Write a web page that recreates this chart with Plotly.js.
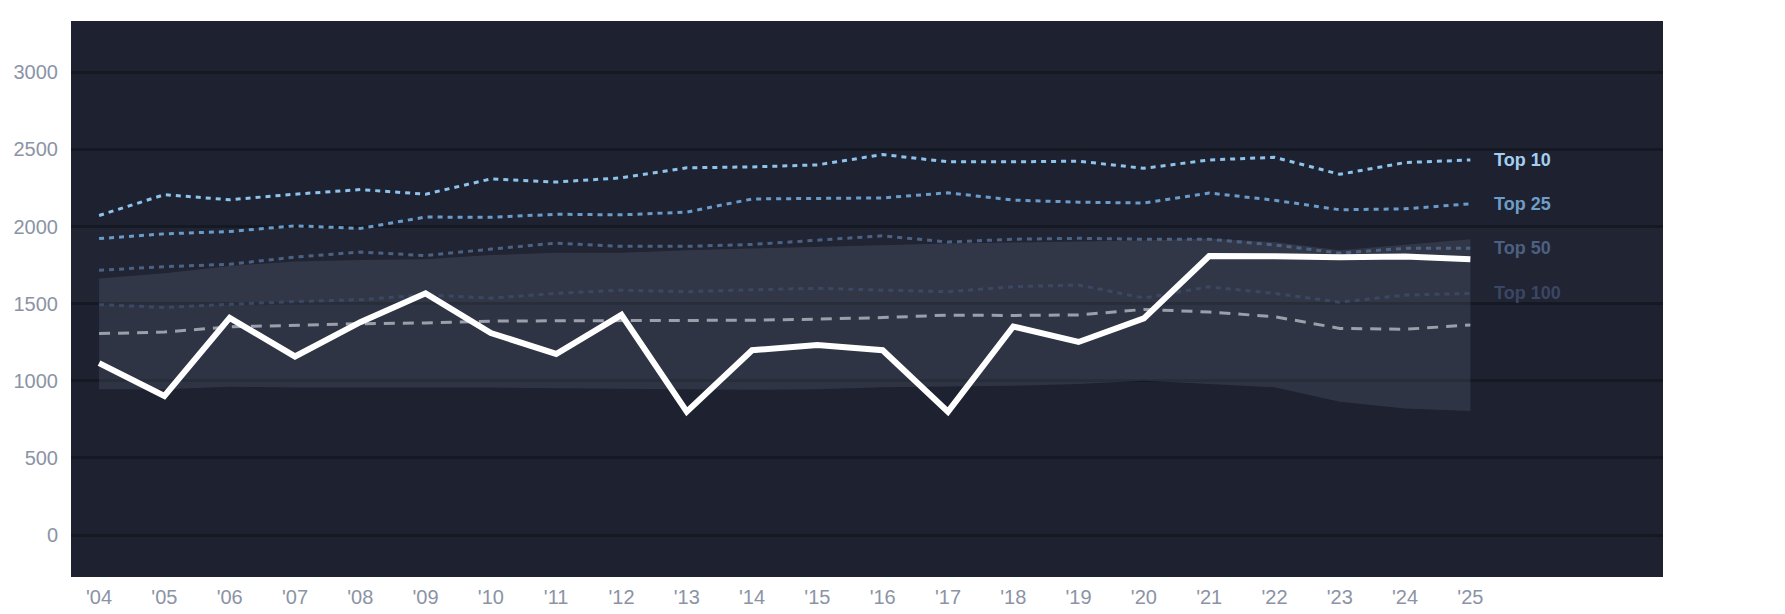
<!DOCTYPE html>
<html>
<head>
<meta charset="utf-8">
<script src="https://cdn.plot.ly/plotly-3.0.1.min.js"></script>
<style>
  html, body { margin: 0; padding: 0; background: #fff; }
  #chart { width: 1785px; height: 614px; }
</style>
</head>
<body>
<div id="chart"></div>
<script>
// season labels
const years = ["'04","'05","'06","'07","'08","'09","'10","'11","'12","'13","'14","'15","'16","'17","'18","'19","'20","'21","'22","'23","'24","'25"];

// highlighted series (thick white line)
const mainValues = [1115, 902, 1408, 1158, 1380, 1567, 1310, 1174, 1428, 800, 1198, 1232, 1198, 800, 1352, 1252, 1405, 1809, 1807, 1801, 1806, 1788];

// reference lines
const top10 = [2072, 2207, 2174, 2210, 2240, 2210, 2309, 2289, 2316, 2381, 2387, 2400, 2467, 2420, 2420, 2424, 2378, 2432, 2449, 2339, 2415, 2432];
const top25 = [1922, 1953, 1968, 2005, 1988, 2062, 2060, 2080, 2076, 2094, 2179, 2184, 2186, 2219, 2172, 2158, 2153, 2218, 2171, 2109, 2115, 2148];
const top50 = [1717, 1740, 1756, 1802, 1835, 1812, 1854, 1893, 1872, 1872, 1884, 1912, 1940, 1900, 1918, 1924, 1918, 1918, 1881, 1828, 1859, 1859];
const top100 = [1494, 1476, 1496, 1514, 1526, 1558, 1536, 1567, 1588, 1578, 1590, 1600, 1588, 1578, 1610, 1621, 1537, 1610, 1567, 1510, 1556, 1567];
const median = [1306, 1316, 1350, 1360, 1370, 1375, 1387, 1389, 1389, 1391, 1393, 1400, 1410, 1426, 1424, 1427, 1463, 1446, 1416, 1340, 1334, 1362];

// shaded range
const bandHigh = [1663, 1698, 1745, 1774, 1784, 1788, 1815, 1830, 1830, 1847, 1858, 1870, 1880, 1890, 1897, 1904, 1910, 1922, 1900, 1846, 1880, 1918];
const bandLow = [946, 946, 962, 957, 957, 957, 957, 952, 948, 945, 942, 946, 958, 963, 968, 980, 1001, 979, 958, 865, 821, 804];

const refLines = [
  {name: 'Top 10', values: top10, line: '#8ec4ec', label: '#a3d0f2'},
  {name: 'Top 25', values: top25, line: '#6a9ccb', label: '#6e9dc8'},
  {name: 'Top 50', values: top50, line: '#4c6283', label: '#4d6082'},
  {name: 'Top 100', values: top100, line: '#3a4864', label: '#3b4762'}
];

const idx = years.map((_, i) => i);
const font = 'Arial, "Liberation Sans", sans-serif';

const traces = [];

// band: lower edge then upper edge filled
traces.push({
  x: idx, y: bandLow, type: 'scatter', mode: 'lines',
  line: {width: 0, color: 'rgba(0,0,0,0)'}, hoverinfo: 'skip', showlegend: false
});
traces.push({
  x: idx, y: bandHigh, type: 'scatter', mode: 'lines', fill: 'tonexty',
  fillcolor: 'rgba(200,210,240,0.11)',
  line: {width: 0, color: 'rgba(0,0,0,0)'}, hoverinfo: 'skip', showlegend: false
});

refLines.forEach(r => {
  traces.push({
    x: idx, y: r.values, type: 'scatter', mode: 'lines',
    line: {color: r.line, width: 3, dash: '5px,5px'},
    name: r.name, showlegend: false
  });
});

traces.push({
  x: idx, y: median, type: 'scatter', mode: 'lines',
  line: {color: '#9a9fa9', width: 3, dash: '11px,8px'},
  name: 'median', showlegend: false
});

traces.push({
  x: idx, y: mainValues, type: 'scatter', mode: 'lines',
  line: {color: '#ffffff', width: 6},
  name: 'value', showlegend: false
});

const last = years.length - 1;
const annotations = refLines.map(r => ({
  x: last, y: r.values[last], xref: 'x', yref: 'y',
  text: '<b>' + r.name + '</b>', showarrow: false,
  xanchor: 'left', yanchor: 'middle', xshift: 22,
  font: {family: font, size: 18, color: r.label}
}));

const layout = {
  width: 1785,
  height: 614,
  margin: {l: 71, r: 122, t: 21, b: 37},
  paper_bgcolor: '#ffffff',
  plot_bgcolor: '#1d2130',
  showlegend: false,
  font: {family: font, size: 20, color: '#8b93a5'},
  xaxis: {
    range: [-0.43, 23.95],
    tickvals: idx,
    ticktext: years,
    showgrid: false,
    zeroline: false,
    showline: false,
    ticks: '',
    ticklabelstandoff: 6,
    tickfont: {family: font, size: 20, color: '#8b93a5'},
    fixedrange: true
  },
  yaxis: {
    range: [-272, 3333],
    tickvals: [0, 500, 1000, 1500, 2000, 2500, 3000],
    showgrid: true,
    gridcolor: '#151924',
    gridwidth: 3,
    zeroline: false,
    showline: false,
    ticks: '',
    ticklabelstandoff: 12,
    tickfont: {family: font, size: 20, color: '#8b93a5'},
    fixedrange: true
  },
  shapes: [{
    type: 'rect', xref: 'paper', yref: 'y', x0: 0, x1: 1, y0: 1500, y1: 2000,
    fillcolor: 'rgba(255,255,255,0.015)', line: {width: 0}, layer: 'below'
  }],
  annotations: annotations
};

Plotly.newPlot('chart', traces, layout, {displayModeBar: false, responsive: false});
</script>
</body>
</html>
